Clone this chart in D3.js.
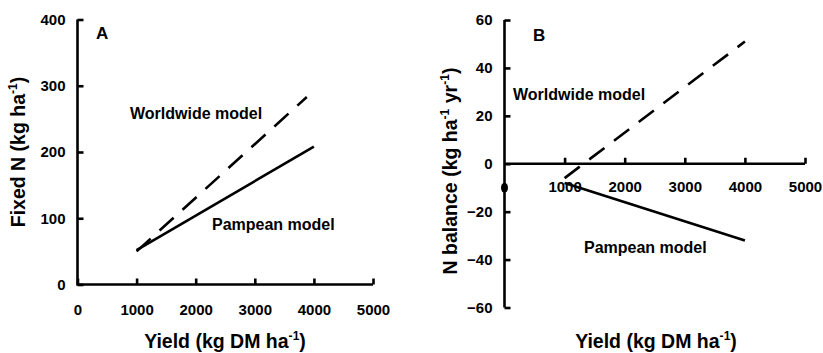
<!DOCTYPE html>
<html><head><meta charset="utf-8">
<script src="https://cdn.jsdelivr.net/npm/d3@7"></script>
<style>
body{margin:0;background:#fff;}
text{font-family:Arial,"Liberation Sans",sans-serif;font-weight:bold;fill:#000;}
</style></head>
<body><svg id="c" width="823" height="353"></svg>
<script>
// ---- data ----
const xTicks = [0, 1000, 2000, 3000, 4000, 5000];
const aYTicks = [0, 100, 200, 300, 400];
const bYTicks = [-60, -40, -20, 0, 20, 40, 60];
const bXTicks = [1000, 2000, 3000, 4000, 5000];
// Panel A: fixed N vs yield
const aPampean = [[1000, 52], [4000, 208]];
const aWorldwide = [[1000, 50], [3880, 283]];
// Panel B: N balance vs yield
const bPampean = [[1000, -8], [4000, -32]];
const bWorldwide = [[1000, -6], [4000, 51]];
const bPoint = [[0, -10]];

const svg = d3.select("#c");
const SW = 2.6;
const TFS = 19.5;

function superTitle(g, main, sup, tail, fs) {
  const t = g.append("text").attr("font-size", fs);
  t.append("tspan").text(main);
  t.append("tspan").attr("font-size", fs * 0.62).attr("dy", -fs * 0.42).text(sup);
  t.append("tspan").attr("dy", fs * 0.42).text(tail);
  return t;
}

function styleAxis(g) {
  g.select(".domain").remove();
  g.selectAll("line").attr("stroke", "#000").attr("stroke-width", SW);
  g.selectAll("text").attr("font-size", 15).attr("font-family", null).attr("fill", "#000");
}

// ===== Panel A =====
const ax = d3.scaleLinear().domain([0, 5000]).range([77.5, 373]);
const ay = d3.scaleLinear().domain([0, 400]).range([284.5, 19.5]);
const A = svg.append("g");

A.append("g").attr("transform", `translate(0,${ay(0)})`)
  .call(d3.axisBottom(ax).tickValues(xTicks).tickSizeInner(-6).tickSizeOuter(0).tickPadding(20).tickFormat(d3.format("d")))
  .call(styleAxis);
A.append("g").attr("transform", `translate(${ax(0)},0)`)
  .call(d3.axisLeft(ay).tickValues(aYTicks).tickSizeInner(-6).tickSizeOuter(0).tickPadding(12).tickFormat(d3.format("d")))
  .call(styleAxis);
A.append("path").attr("d", d3.line()([[ax(0), ay(400)], [ax(0), ay(0)], [ax(5000), ay(0)]]))
  .attr("fill", "none").attr("stroke", "#000").attr("stroke-width", SW).attr("stroke-linejoin", "miter");

const la = d3.line().x(d => ax(d[0])).y(d => ay(d[1]));
A.append("path").attr("d", la(aPampean)).attr("fill", "none").attr("stroke", "#000").attr("stroke-width", SW);
A.append("path").attr("d", la(aWorldwide)).attr("fill", "none").attr("stroke", "#000").attr("stroke-width", SW)
  .attr("stroke-dasharray", "19,12");

A.append("text").attr("x", 96).attr("y", 39).attr("font-size", 17).text("A");
A.append("text").attr("x", 130).attr("y", 119).attr("font-size", 16).text("Worldwide model");
A.append("text").attr("x", 212).attr("y", 230).attr("font-size", 16).text("Pampean model");
superTitle(A, "Yield (kg DM ha", "-1", ")", TFS).attr("x", 225).attr("y", 348).attr("text-anchor", "middle");
superTitle(A, "Fixed N (kg ha", "-1", ")", TFS).attr("text-anchor", "middle")
  .attr("transform", "translate(25,152) rotate(-90)");

// ===== Panel B =====
const bx = d3.scaleLinear().domain([0, 5000]).range([504.5, 805]);
const by = d3.scaleLinear().domain([-60, 60]).range([307.5, 20]);
const B = svg.append("g");

B.append("g").attr("transform", `translate(0,${by(0)})`)
  .call(d3.axisBottom(bx).tickValues(bXTicks).tickSizeInner(-6).tickSizeOuter(0).tickPadding(18).tickFormat(d3.format("d")))
  .call(styleAxis);
B.append("g").attr("transform", `translate(${bx(0)},0)`)
  .call(d3.axisLeft(by).tickValues(bYTicks).tickSizeInner(-6).tickSizeOuter(0).tickPadding(12).tickFormat(d3.format("d")))
  .call(styleAxis);
B.append("path").attr("d", d3.line()([[bx(0), by(60)], [bx(0), by(-60)]]))
  .attr("fill", "none").attr("stroke", "#000").attr("stroke-width", SW);
B.append("path").attr("d", d3.line()([[bx(0), by(0)], [bx(5000), by(0)]]))
  .attr("fill", "none").attr("stroke", "#000").attr("stroke-width", SW);

const lb = d3.line().x(d => bx(d[0])).y(d => by(d[1]));
B.append("path").attr("d", lb(bPampean)).attr("fill", "none").attr("stroke", "#000").attr("stroke-width", SW);
B.append("path").attr("d", lb(bWorldwide)).attr("fill", "none").attr("stroke", "#000").attr("stroke-width", SW)
  .attr("stroke-dasharray", "19,12");
B.selectAll("ellipse.pt").data(bPoint).enter().append("ellipse")
  .attr("cx", d => bx(d[0])).attr("cy", d => by(d[1])).attr("rx", 3.5).attr("ry", 5).attr("fill", "#000");

B.append("text").attr("x", 533).attr("y", 41).attr("font-size", 17).text("B");
B.append("text").attr("x", 513).attr("y", 100).attr("font-size", 16).text("Worldwide model");
B.append("text").attr("x", 584).attr("y", 253).attr("font-size", 16).text("Pampean model");
superTitle(B, "Yield (kg DM ha", "-1", ")", TFS).attr("x", 656).attr("y", 348).attr("text-anchor", "middle");
const bt = B.append("text").attr("font-size", TFS).attr("text-anchor", "middle")
  .attr("transform", "translate(457,171) rotate(-90)");
bt.append("tspan").text("N balance (kg ha");
bt.append("tspan").attr("font-size", TFS * 0.62).attr("dy", -TFS * 0.42).text("-1");
bt.append("tspan").attr("dy", TFS * 0.42).text(" yr");
bt.append("tspan").attr("font-size", TFS * 0.62).attr("dy", -TFS * 0.42).text("-1");
bt.append("tspan").attr("dy", TFS * 0.42).text(")");
</script></body></html>
